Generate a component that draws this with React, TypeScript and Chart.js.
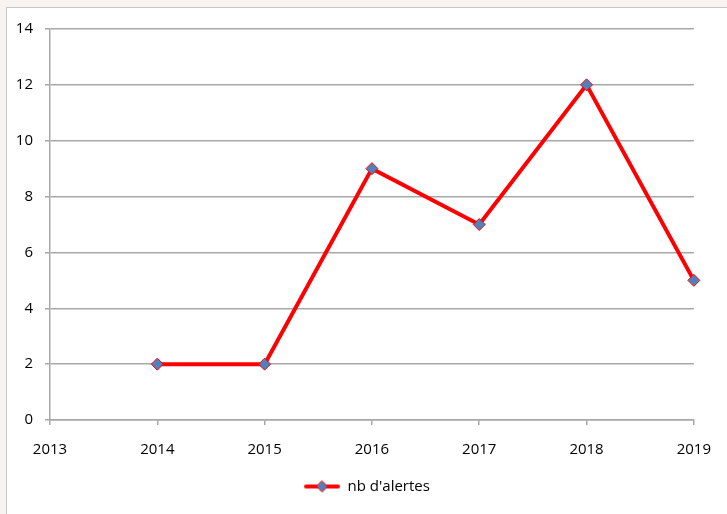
import React, { useEffect, useRef } from "react";
import { Chart, registerables } from "chart.js";

Chart.register(...registerables);

const categories = ["2013", "2014", "2015", "2016", "2017", "2018", "2019"];
const alertValues: (number | null)[] = [null, 2, 2, 9, 7, 12, 5];
const seriesLabel = "nb d'alertes";
const yMin = 0;
const yMax = 14;
const yStep = 2;

function makeLegendSymbol(): HTMLCanvasElement {
  const c = document.createElement("canvas");
  c.width = 36;
  c.height = 14;
  const ctx = c.getContext("2d")!;
  ctx.strokeStyle = "#ff0000";
  ctx.lineWidth = 4;
  ctx.lineCap = "round";
  ctx.beginPath();
  ctx.moveTo(2, 7);
  ctx.lineTo(34, 7);
  ctx.stroke();
  ctx.beginPath();
  ctx.moveTo(18, 1.5);
  ctx.lineTo(23.5, 7);
  ctx.lineTo(18, 12.5);
  ctx.lineTo(12.5, 7);
  ctx.closePath();
  ctx.fillStyle = "#4f81bd";
  ctx.fill();
  ctx.strokeStyle = "#ff0000";
  ctx.lineWidth = 1;
  ctx.stroke();
  return c;
}

export default function App() {
  const ref = useRef<HTMLCanvasElement | null>(null);

  useEffect(() => {
    if (!ref.current) return;
    const font = { family: "'Open Sans', sans-serif", size: 15 };
    const gridColor = "#a8a8a8";
    const chart = new Chart(ref.current, {
      type: "line",
      data: {
        labels: categories,
        datasets: [
          {
            label: seriesLabel,
            data: alertValues,
            borderColor: "#ff0000",
            borderWidth: 4,
            tension: 0,
            pointStyle: "rectRot",
            pointRadius: 6,
            pointBackgroundColor: "#4f81bd",
            pointBorderColor: "#ff0000",
            pointBorderWidth: 1,
            yAxisID: "y",
          },
        ],
      },
      options: {
        animation: false,
        responsive: false,
        layout: { padding: { top: 20, right: 0, left: 0, bottom: 10 } },
        scales: {
          x: {
            type: "category",
            offset: false,
            grid: {
              drawOnChartArea: false,
              drawTicks: true,
              tickLength: 5,
              color: gridColor,
              lineWidth: 1.5,
            },
            border: { color: gridColor, width: 1.5 },
            ticks: { color: "#000", font, padding: 16, maxRotation: 0 },
            afterFit: (s: any) => {
              s.height = 49;
            },
          },
          y: {
            position: "left",
            min: yMin,
            max: yMax,
            ticks: { stepSize: yStep, color: "#000", font, padding: 12 },
            grid: { color: gridColor, tickLength: 5, lineWidth: 1.5 },
            border: { color: gridColor, width: 1.5 },
            afterFit: (s: any) => {
              s.width = 43;
            },
          },
          yRightSpace: {
            position: "right",
            display: true,
            min: yMin,
            max: yMax,
            grid: { display: false, drawOnChartArea: false },
            border: { display: false },
            ticks: { display: false },
            afterFit: (s: any) => {
              s.width = 32;
            },
          },
        },
        plugins: {
          legend: {
            position: "bottom",
            labels: {
              usePointStyle: true,
              pointStyle: makeLegendSymbol() as any,
              pointStyleWidth: 36,
              color: "#000",
              font,
              padding: 10,
            },
          },
          tooltip: { enabled: false },
        },
      },
    });
    return () => chart.destroy();
  }, []);

  return (
    <div
      style={{
        position: "fixed",
        left: 0,
        top: 0,
        width: 727,
        height: 514,
        background: "#f6f3f0",
        overflow: "hidden",
      }}
    >
      <div
        style={{
          position: "absolute",
          left: 6,
          top: 7,
          width: 721,
          height: 507,
          background: "#ffffff",
          borderLeft: "1px solid #c6c6c6",
          borderTop: "1px solid #c6c6c6",
          boxSizing: "border-box",
        }}
      >
        <canvas
          ref={ref}
          width={720}
          height={506}
          style={{ position: "absolute", left: 0, top: 0, display: "block" }}
        />
      </div>
    </div>
  );
}
